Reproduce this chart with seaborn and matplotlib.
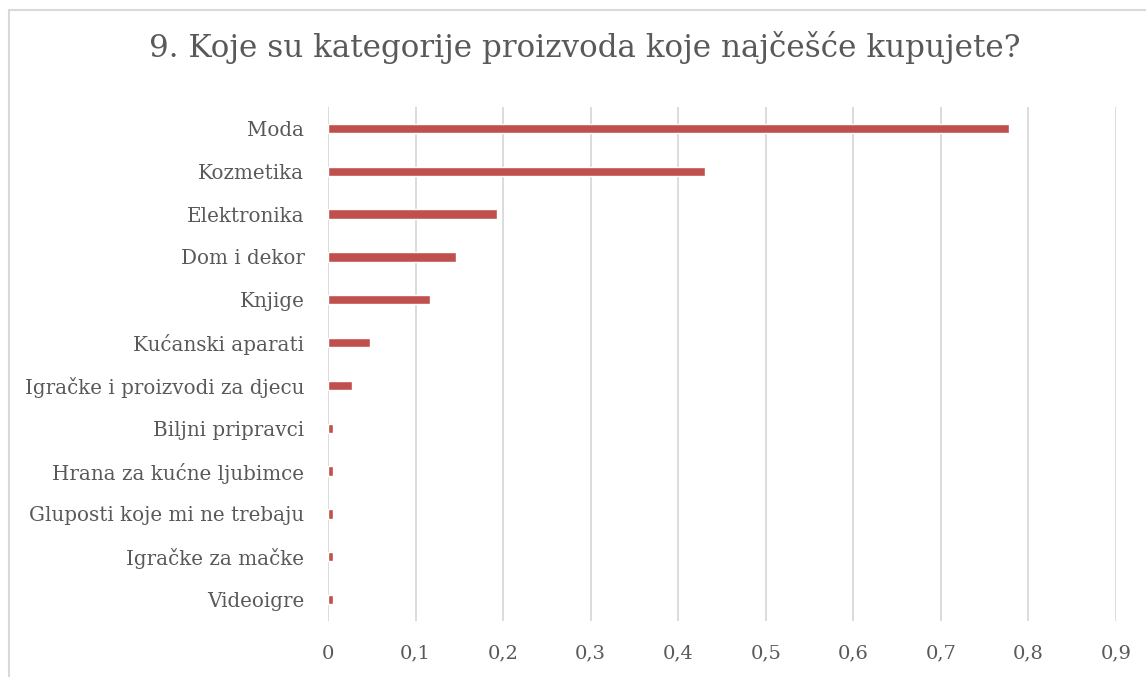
import numpy as np
import pandas as pd
import seaborn as sns
import matplotlib.pyplot as plt
from matplotlib.lines import Line2D

categories = ["Moda", "Kozmetika", "Elektronika", "Dom i dekor", "Knjige",
              "Kućanski aparati", "Igračke i proizvodi za djecu", "Biljni pripravci",
              "Hrana za kućne ljubimce", "Gluposti koje mi ne trebaju",
              "Igračke za mačke", "Videoigre"]
shares = [0.778, 0.431, 0.193, 0.146, 0.117, 0.048, 0.027, 0.006, 0.006, 0.006, 0.006, 0.006]
ticks = [0, 0.1, 0.2, 0.3, 0.4, 0.5, 0.6, 0.7, 0.8, 0.9]

df = pd.DataFrame({"kategorija": categories, "udio": shares})

sns.set_theme(style="white")
plt.rcParams['font.family'] = ['DejaVu Serif']
text_col = "#595959"
grid_col = "#D9D9D9"

fig = plt.figure(figsize=(11.46, 6.77), dpi=100)
ax = fig.add_axes([328 / 1146, 1 - 621 / 677, (1116 - 328) / 1146, (621 - 107) / 677])

sns.barplot(data=df, x="udio", y="kategorija", orient="h", color="#C0504D",
            width=0.22, saturation=1, ax=ax)

ax.set_xlim(0, 0.9)
ax.set_xticks(ticks)
ax.set_xticklabels([("%g" % t).replace(".", ",") for t in ticks])
ax.set_xlabel("")
ax.set_ylabel("")
for s in ax.spines.values():
    s.set_visible(False)
ax.xaxis.grid(True, color=grid_col, linewidth=1.3)
ax.set_axisbelow(True)
ax.tick_params(axis="both", length=0, colors=text_col)
ax.tick_params(axis="x", pad=17, labelsize=14)
ax.tick_params(axis="y", pad=17, labelsize=14.3)

fig.text(585 / 1146, 1 - 48 / 677, "9. Koje su kategorije proizvoda koje najčešće kupujete?",
         ha="center", va="center", fontsize=22.3, color=text_col)

# okvir grafikona
fig.add_artist(Line2D([9 / 1146, 9 / 1146], [0, 1 - 10 / 677], color=grid_col, linewidth=1.5))
fig.add_artist(Line2D([9 / 1146, 1], [1 - 10 / 677, 1 - 10 / 677], color=grid_col, linewidth=1.5))

fig.savefig("out.png", dpi=100)
